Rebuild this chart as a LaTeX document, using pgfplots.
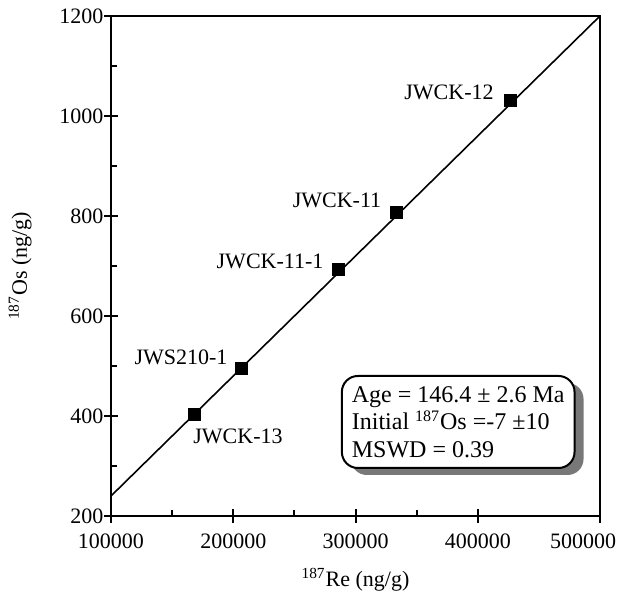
\documentclass[border=0pt]{standalone}
\usepackage{fontspec}
\setmainfont{Liberation Serif}
\usepackage{pgfplots}
\pgfplotsset{compat=1.18}
\usetikzlibrary{shadows}

\begin{document}
\fontsize{11}{13.5}\selectfont
\begin{tikzpicture}
\begin{axis}[
  scale only axis, width=244.5pt, height=250pt,
  xmin=100000, xmax=500000, ymin=200, ymax=1200,
  xtick={100000,200000,300000,400000},
  extra x ticks={500000},
  extra x tick labels={\makebox[0pt]{\hspace*{-17pt}500000}},
  ytick={200,400,...,1200},
  minor x tick num=1, minor y tick num=1,
  xtick pos=left, ytick pos=left,
  tick align=inside,
  major tick length=7pt, minor tick length=3pt,
  every major x tick/.append style={yshift=-3.5pt},
  every major y tick/.append style={xshift=-3.5pt},
  axis line style={line width=1pt},
  tick style={line width=1pt, black},
  /pgf/number format/fixed,
  /pgf/number format/precision=0,
  /pgf/number format/assume math mode=true,
  /pgf/number format/set thousands separator={},
  scaled x ticks=false,
  xticklabel style={yshift=-5pt},
  xlabel={\textsuperscript{187}Re (ng/g)},
  ylabel={\textsuperscript{187}Os (ng/g)},
  x label style={at={(axis description cs:0.5,-0.128)}, anchor=center},
  y label style={at={(axis description cs:-0.186,0.5)}, anchor=center},
]
\addplot[black, line width=0.8pt] coordinates {(100000,240) (500000,1200)};
\addplot[only marks, mark=square*, mark size=3pt, black] coordinates {
  (167900,404) (206300,496) (285700,694) (333100,808) (426400,1032)};
\node at (axis cs:203900,360) {JWCK-13};
\node at (axis cs:157300,518) {JWS210-1};
\node at (axis cs:230100,710) {JWCK-11-1};
\node at (axis cs:284900,832) {JWCK-11};
\node at (axis cs:376500,1048) {JWCK-12};
\node[draw, line width=1pt, rounded corners=8pt, fill=white, align=left,
      minimum height=46pt, inner xsep=5pt,
      font=\fontsize{12}{13.8}\selectfont,
      drop shadow={shadow xshift=4.5pt, shadow yshift=-3.5pt, fill=black!53, opacity=1}]
  at (rel axis cs:0.710,0.188)
  {Age = 146.4 ± 2.6 Ma\\Initial \textsuperscript{187}Os =-7 ±10\\MSWD = 0.39};
\end{axis}
\pgfresetboundingbox
\path[use as bounding box] ([shift={(-55.5pt,-40.5pt)}]current axis.south west)
  rectangle ([shift={(254pt,258pt)}]current axis.south west);
\end{tikzpicture}
\end{document}
